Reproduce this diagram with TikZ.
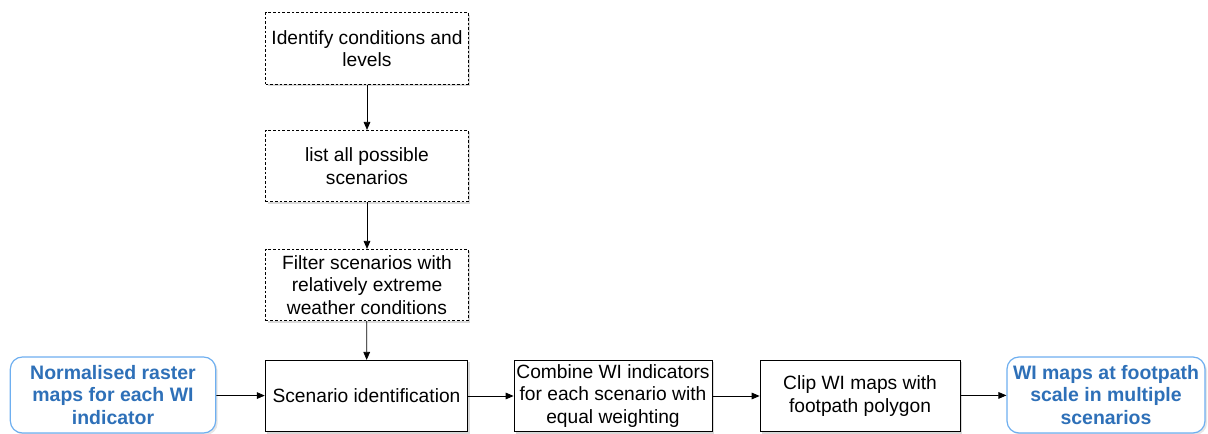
\documentclass[tikz,border=0pt]{standalone}
\usepackage{fontspec}
\setmainfont{Liberation Sans}
\usetikzlibrary{arrows.meta,shadows}
\definecolor{wiblue}{RGB}{46,112,184}
\definecolor{wiedge}{RGB}{110,175,240}

\begin{document}
\begin{tikzpicture}[x=0.75pt,y=-0.75pt,
    every node/.style={font=\fontsize{14.4}{17}\selectfont, align=center, inner sep=0pt},
    stepbox/.style={draw, line width=0.6pt, fill=white, minimum width=152pt, minimum height=53.5pt,
        drop shadow={shadow xshift=1.5pt, shadow yshift=-1.5pt, opacity=0.3}},
    dashbox/.style={stepbox, dash pattern=on 2pt off 1.5pt},
    databox/.style={draw=wiedge, line width=0.9pt, rounded corners=9pt, fill=white,
        minimum width=154pt, minimum height=57pt, text=wiblue, font=\fontsize{14.6}{17}\selectfont\bfseries,
        drop shadow={shadow xshift=1.5pt, shadow yshift=-1.5pt, opacity=0.2}},
    flow/.style={-{Triangle[length=6pt,width=5pt]}, line width=0.6pt}]
    \useasboundingbox (0,0) rectangle (1208,434);

    % top column
    \node[dashbox] (cond) at (367, 48.5) {Identify conditions and\\levels};
    \node[dashbox] (list) at (367, 166) {list all possible\\scenarios};
    \node[dashbox] (filter) at (367, 285) {Filter scenarios with\\relatively extreme\\weather conditions};

    % bottom row
    \node[databox] (raster) at (113, 395) {Normalised raster\\maps for each WI\\indicator};
    \node[stepbox] (ident) at (366.5, 396) {Scenario identification};
    \node[stepbox, minimum width=148.5pt] (combine) at (613, 396) {Combine WI indicators\\for each scenario with\\equal weighting};
    \node[stepbox, minimum width=150pt] (clip) at (860, 396) {Clip WI maps with\\footpath polygon};
    \node[databox, minimum width=148.5pt] (result) at (1106, 395) {WI maps at footpath\\scale in multiple\\scenarios};

    \draw[flow] (cond) -- (list);
    \draw[flow] (list) -- (filter);
    \draw[flow] (filter) -- (ident);

    \draw[flow] (raster) -- (ident);
    \draw[flow] (ident) -- (combine);
    \draw[flow] (combine) -- (clip);
    \draw[flow] (clip) -- (result);
\end{tikzpicture}
\end{document}
